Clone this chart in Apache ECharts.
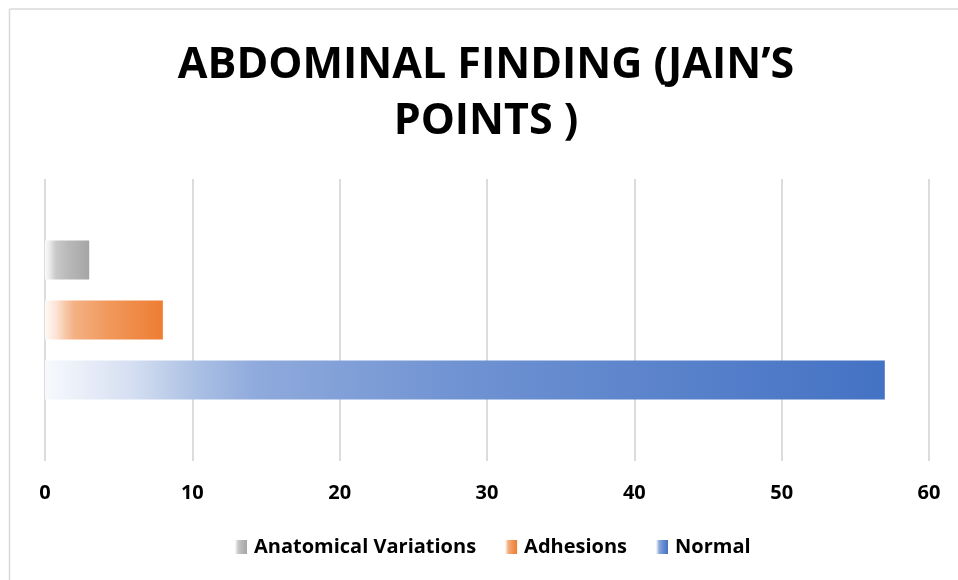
<!DOCTYPE html>
<html>
<head>
<meta charset="utf-8">
<script src="https://cdn.jsdelivr.net/npm/echarts@6/dist/echarts.min.js"></script>
<style>
  html, body { margin: 0; padding: 0; background: #ffffff; }
  #chart { width: 958px; height: 580px; }
</style>
</head>
<body>
<div id="chart"></div>
<script>
// Findings at Jain's points
const categories = ['Jain\u2019s points'];
const seriesNames = ['Anatomical Variations', 'Adhesions', 'Normal'];
const anatomicalVariations = [3];
const adhesions = [8];
const normal = [57];
const xTicks = { min: 0, max: 60, interval: 10 };

const baseColors = ['#a5a5a5', '#ed7d31', '#4472c4'];
const values = [anatomicalVariations, adhesions, normal];

// Blend a hex colour toward white by weight t (0 = white, 1 = full colour)
function tint(hex, t) {
  const n = parseInt(hex.slice(1), 16);
  const r = (n >> 16) & 255, g = (n >> 8) & 255, b = n & 255;
  const mix = c => Math.round(255 - (255 - c) * t);
  return 'rgb(' + mix(r) + ',' + mix(g) + ',' + mix(b) + ')';
}

// Horizontal fade from near-white on the left to the solid colour on the right
function fade(hex) {
  return new echarts.graphic.LinearGradient(0, 0, 1, 0, [
    { offset: 0, color: tint(hex, 0.04) },
    { offset: 0.1, color: tint(hex, 0.22) },
    { offset: 0.18, color: tint(hex, 0.45) },
    { offset: 0.25, color: tint(hex, 0.6) },
    { offset: 0.5, color: tint(hex, 0.77) },
    { offset: 1, color: tint(hex, 1) }
  ]);
}

const font = '"Open Sans", Lato, sans-serif';

const chart = echarts.init(document.getElementById('chart'), null, { renderer: 'canvas' });
chart.setOption({
  animation: false,
  backgroundColor: '#ffffff',
  title: {
    text: 'ABDOMINAL FINDING (JAIN\u2019S\nPOINTS )',
    left: 481,
    top: 33,
    textAlign: 'center',
    textStyle: {
      fontFamily: font,
      fontWeight: 'bold',
      fontSize: 43,
      lineHeight: 56,
      color: '#000000'
    }
  },
  legend: {
    bottom: 18,
    left: 230,
    itemWidth: 12,
    itemHeight: 14,
    itemGap: 29,
    icon: 'rect',
    data: seriesNames,
    textStyle: {
      fontFamily: font,
      fontWeight: 'bold',
      fontSize: 20,
      color: '#000000',
      padding: [0, 0, 0, 2]
    }
  },
  grid: { left: 45, right: 29, top: 179, bottom: 119, containLabel: false },
  xAxis: {
    type: 'value',
    min: xTicks.min,
    max: xTicks.max,
    interval: xTicks.interval,
    axisLine: { show: false },
    axisTick: { show: false },
    axisLabel: {
      margin: 22,
      fontFamily: font,
      fontWeight: 'bold',
      fontSize: 20,
      color: '#000000'
    },
    splitLine: { lineStyle: { color: '#d0d0d0', width: 1.5 } }
  },
  yAxis: {
    type: 'category',
    data: categories,
    axisLine: { show: false },
    axisTick: { show: false },
    axisLabel: { show: false },
    splitLine: { show: false }
  },
  graphic: [
    { type: 'line', shape: { x1: 9.5, y1: 9, x2: 958, y2: 9 }, style: { stroke: '#d9d9d9', lineWidth: 1.5 }, silent: true },
    { type: 'line', shape: { x1: 9.5, y1: 9, x2: 9.5, y2: 580 }, style: { stroke: '#d9d9d9', lineWidth: 1.5 }, silent: true }
  ],
  series: seriesNames.map((name, i) => ({
    name: name,
    type: 'bar',
    data: values[i],
    barWidth: 39,
    barGap: '54%',
    itemStyle: { color: fade(baseColors[i]) }
  }))
});
</script>
</body>
</html>
